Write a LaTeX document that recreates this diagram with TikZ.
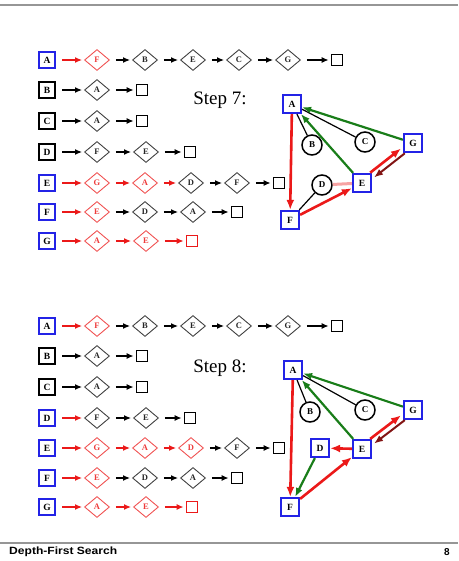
\documentclass[tikz,border=0pt]{standalone}
\usepackage{fontspec}
\usepackage{graphicx}
\setmainfont{Liberation Serif}
\newfontfamily\footfont{Liberation Sans}
\usetikzlibrary{shapes.geometric,arrows.meta}

\definecolor{vblue}{RGB}{35,35,230}
\definecolor{tred}{RGB}{235,25,25}
\definecolor{bgreen}{RGB}{25,125,25}
\definecolor{dred}{RGB}{130,20,20}
\definecolor{rulegray}{RGB}{150,150,150}

\tikzset{
  head/.style={draw=#1, line width=2.2pt, minimum size=16pt, inner sep=0pt,
    font=\bfseries\fontsize{9.5}{9.5}\selectfont},
  cell/.style={diamond, draw=#1!75!white, text=#1!85!white, line width=0.9pt,
    minimum width=25pt, minimum height=21pt, inner sep=0pt,
    font=\bfseries\fontsize{8.5}{8.5}\selectfont},
  nil/.style={draw=#1, line width=1.8pt, minimum size=11pt, inner sep=0pt},
  ptr/.style={-{Latex[length=7pt,width=6pt]}, line width=1.3pt,
    shorten <=6pt, shorten >=2pt},
  gbox/.style={draw=vblue, line width=2.2pt, minimum size=18pt, inner sep=0pt,
    font=\bfseries\fontsize{9.5}{9.5}\selectfont},
  gcirc/.style={circle, draw=black, line width=1.5pt, minimum size=20pt,
    inner sep=0pt, font=\bfseries\fontsize{9}{9}\selectfont},
  tree/.style={draw=tred, line width=2.6pt, -{Latex[length=10pt,width=8pt]}},
  backedge/.style={draw=bgreen, line width=2.2pt, -{Latex[length=9pt,width=7pt]}},
  crossedge/.style={draw=dred, line width=2pt, -{Latex[length=9pt,width=7pt]}},
  probe/.style={draw=tred!40, line width=3pt},
  plain/.style={draw=black, line width=1.2pt},
  steplabel/.style={font=\fontsize{19}{19}\selectfont},
}

% one adjacency list: prefix, vertex, y, head colour,
% cells (x/letter/pointer colour/cell colour), nil x, nil pointer colour, nil colour
\newcommand\adjrow[8]{%
  \node[head=#4] (#1#2c0) at (47,#3) {#2};
  \foreach \cx/\cl/\ac/\cc [count=\i, remember=\i as \j (initially 0)] in {#5}{
    \node[cell=\cc] (#1#2c\i) at (\cx,#3) {\cl};
    \draw[ptr,\ac] (#1#2c\j) -- (#1#2c\i);
    \xdef\lastcell{#1#2c\i}
  }
  \node[nil=#8] (#1#2n) at (#6,#3) {};
  \draw[ptr,#7] (\lastcell) -- (#1#2n);
}

\begin{document}
\begin{tikzpicture}[x=1pt,y=-1pt]
\useasboundingbox (0,0) rectangle (458,561);

% page rules
\draw[rulegray, line width=2pt] (0,5) -- (458,5);
\draw[rulegray, line width=1.5pt] (0,543) -- (458,543);

% ---------- step 7 ----------
\adjrow{t}{A}{60}{vblue}{97/F/tred/tred, 145/B/black/black, 193/E/black/black, 239/C/black/black, 288/G/black/black}{337}{black}{black}
\adjrow{t}{B}{90}{black}{97/A/black/black}{142}{black}{black}
\adjrow{t}{C}{121}{black}{97/A/black/black}{142}{black}{black}
\adjrow{t}{D}{152}{black}{97/F/black/black, 146/E/black/black}{190}{black}{black}
\adjrow{t}{E}{183}{vblue}{97/G/tred/tred, 145/A/tred/tred, 191/D/tred/black, 237/F/black/black}{279}{black}{black}
\adjrow{t}{F}{212}{vblue}{97/E/tred/tred, 145/D/black/black, 193/A/black/black}{237}{black}{black}
\adjrow{t}{G}{241}{vblue}{97/A/tred/tred, 146/E/tred/tred}{192}{tred}{tred}

\node[steplabel] (s7) at (220,100) {Step 7:};

\node[gbox]  (tA) at (292,104) {A};
\node[gcirc] (tB) at (312,145) {B};
\node[gcirc] (tC) at (365,142) {C};
\node[gbox]  (tG) at (413,143) {G};
\node[gcirc] (tD) at (322,185) {D};
\node[gbox]  (tE) at (362,183) {E};
\node[gbox]  (tF) at (290,220) {F};

\draw[plain] (tA) -- (tB);
\draw[plain] (tA) -- (tC);
\draw[plain] (tF) -- (tD);
\draw[probe] (tE) -- (tD);
\draw[tree] (tA) -- (tF);
\draw[tree] (tF) -- (tE);
\draw[backedge] (tG) -- (tA);
\draw[backedge] (tE) -- (tA);
\draw[tree, transform canvas={shift={(-1.9pt,2.4pt)}}] (tE) -- (tG);
\draw[crossedge, transform canvas={shift={(1.9pt,-2.4pt)}}] (tG) -- (tE);

% ---------- step 8 ----------
\adjrow{b}{A}{326}{vblue}{97/F/tred/tred, 145/B/black/black, 193/E/black/black, 239/C/black/black, 288/G/black/black}{337}{black}{black}
\adjrow{b}{B}{356}{black}{97/A/black/black}{142}{black}{black}
\adjrow{b}{C}{387}{black}{97/A/black/black}{142}{black}{black}
\adjrow{b}{D}{418}{vblue}{97/F/tred/black, 146/E/black/black}{190}{black}{black}
\adjrow{b}{E}{448}{vblue}{97/G/tred/tred, 145/A/tred/tred, 191/D/tred/tred, 237/F/black/black}{279}{black}{black}
\adjrow{b}{F}{478}{vblue}{97/E/tred/tred, 145/D/black/black, 193/A/black/black}{237}{black}{black}
\adjrow{b}{G}{507}{vblue}{97/A/tred/tred, 146/E/tred/tred}{192}{tred}{tred}

\node[steplabel] (s8) at (220,368) {Step 8:};

\node[gbox]  (bA) at (293,370) {A};
\node[gcirc] (bB) at (310,412) {B};
\node[gcirc] (bC) at (365,410) {C};
\node[gbox]  (bG) at (413,410) {G};
\node[gbox]  (bD) at (320,448) {D};
\node[gbox]  (bE) at (362,449) {E};
\node[gbox]  (bF) at (290,507) {F};

\draw[plain] (bA) -- (bB);
\draw[plain] (bA) -- (bC);
\draw[tree] (bA) -- (bF);
\draw[tree] (bE) -- (bD);
\draw[tree] (bF) -- (bE);
\draw[backedge] (bD) -- (bF);
\draw[backedge] (bG) -- (bA);
\draw[backedge] (bE) -- (bA);
\draw[tree, transform canvas={shift={(-1.9pt,2.4pt)}}] (bE) -- (bG);
\draw[crossedge, transform canvas={shift={(1.9pt,-2.4pt)}}] (bG) -- (bE);

% footer
\node[anchor=west, inner sep=0pt, font=\footfont\bfseries\fontsize{10.5}{10.5}\selectfont]
  (title) at (9,552) {\scalebox{1.15}[1]{Depth-First Search}};
\node[inner sep=0pt, font=\footfont\bfseries\fontsize{10}{10}\selectfont]
  (page) at (447,552) {8};
\end{tikzpicture}
\end{document}
